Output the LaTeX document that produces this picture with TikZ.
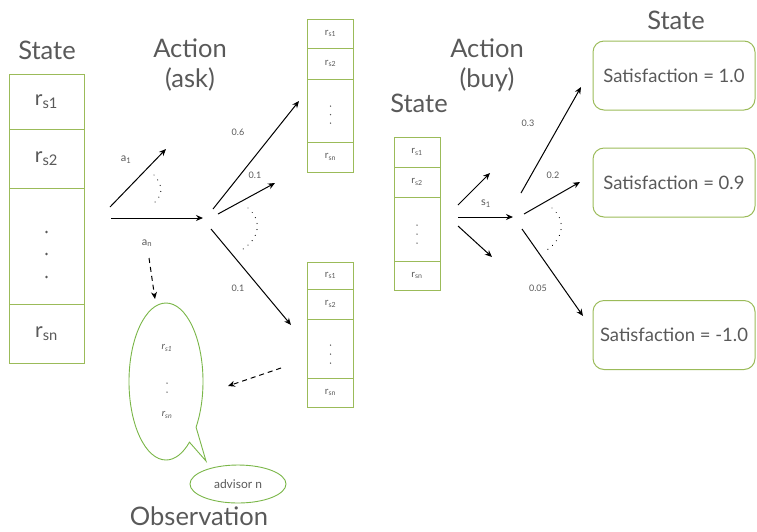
\documentclass[tikz,border=0pt]{standalone}
\usepackage{fontspec}
\setmainfont{Lato}
\usetikzlibrary{arrows.meta, shapes.callouts, shapes.geometric}
\definecolor{mdpGreen}{HTML}{9BBB59}
\definecolor{mdpBubble}{HTML}{7AB648}
\definecolor{mdpGrey}{HTML}{595959}
\newcommand{\rs}[1]{r\textsubscript{s#1}}
\tikzset{
  %% titles over each column
  titre/.style     = {font=\fontsize{25.5}{30}\selectfont, text=mdpGrey, align=center},
  %% state stacks: big on the left, small for the successor states
  cellBig/.style   = {draw=mdpGreen, line width=1pt, minimum width=75pt, inner sep=0pt,
                      text=mdpGrey, font=\fontsize{21}{23}\selectfont, align=center},
  cellSmall/.style = {draw=mdpGreen, line width=0.9pt, minimum width=46pt, inner sep=0pt,
                      text=mdpGrey, font=\fontsize{10}{7}\selectfont, align=center},
  issue/.style     = {draw=mdpGreen, line width=1pt, rounded corners=11pt,
                      minimum width=162pt, minimum height=69pt, text=mdpGrey,
                      font=\fontsize{18.5}{20}\selectfont},
  %% arrows
  fleche/.style    = {-{Stealth[length=7pt, width=6pt]}, line width=1pt},
  flecheObs/.style = {fleche, dash pattern=on 5pt off 4pt},
  arc/.style       = {line width=1.1pt, dash pattern=on 0.1pt off 6pt, line cap=round},
  proba/.style     = {font=\fontsize{9}{10}\selectfont, text=mdpGrey},
  choix/.style     = {font=\fontsize{11}{12}\selectfont, text=mdpGrey},
}

\begin{document}
\begin{tikzpicture}[x=1pt, y=-1pt]
\useasboundingbox (0,0) rectangle (757,531);

%% column titles
\node[titre] (tState)  at (47,50)   {State};
\node[titre] (tAsk)    at (190,65)  {Action\\(ask)};
\node[titre] (tMid)    at (419,103) {State};
\node[titre] (tBuy)    at (487,65)  {Action\\(buy)};
\node[titre] (tOut)    at (676,20)  {State};
\node[titre] (tObs)    at (199,516) {Observation};

%% current state
\foreach \n/\y/\h/\t in {1/101.5/55/{\rs1}, 2/158.5/59/{\rs2},
                         3/246/116/{}, 4/333.5/59/{\rs n}}
  \node[cellBig, minimum height=\h pt] (L\n) at (46.5,\y) {\t};

%% successor states after asking
\foreach \n/\y/\h/\t in {1/33.5/29/{\rs1}, 2/63.5/31/{\rs2},
                         3/110.5/63/{}, 4/157/30/{\rs n}}
  \node[cellSmall, minimum height=\h pt] (U\n) at (330.5,\y) {\t};
\foreach \n/\y/\h/\t in {1/275.5/27/{\rs1}, 2/304/30/{\rs2},
                         3/348.5/59/{}, 4/392.5/29/{\rs n}}
  \node[cellSmall, minimum height=\h pt] (D\n) at (330.5,\y) {\t};

%% state before buying
\foreach \n/\y/\h/\t in {1/152/30/{\rs1}, 2/182/30/{\rs2},
                         3/229/64/{}, 4/275.5/29/{\rs n}}
  \node[cellSmall, minimum height=\h pt] (M\n) at (417,\y) {\t};

%% vertical ellipses
\foreach \y in {232, 254, 277}
  \fill[mdpGrey] (46.5,\y) circle (1.3pt);
\foreach \x/\y in {330.5/106, 330.5/114.5, 330.5/123, 330.5/345, 330.5/354, 330.5/363,
                   417/225, 417/234, 417/243, 167/383, 167/392}
  \fill[mdpGrey] (\x,\y) circle (0.75pt);

%% final states
\node[issue] (sat1) at (674,75.5)  {Satisfaction = 1.0};
\node[issue] (sat2) at (674,182.5) {Satisfaction = 0.9};
\node[issue] (sat3) at (674,335)   {\raisebox{-10pt}{Satisfaction = -1.0}};

%% observation
\node[ellipse callout, draw=mdpBubble, line width=0.9pt, minimum width=74pt,
      minimum height=157pt, callout absolute pointer={(206,461)}]
     (obs) at (166,381.5) {};
\node[text=mdpGrey, font=\itshape\fontsize{10}{13}\selectfont] (obs1) at (167,348) {\rs1};
\node[text=mdpGrey, font=\itshape\fontsize{10}{13}\selectfont] (obsn) at (167,415) {\rs n};
\node[ellipse, draw=mdpBubble, line width=0.9pt, minimum width=96pt, minimum height=38pt,
      text=mdpGrey, font=\fontsize{12}{13}\selectfont] (adv) at (238,484) {advisor n};

%% ask
\coordinate (a1From) at (110,207);   \coordinate (a1To) at (166,149);
\coordinate (askFrom) at (111,218);  \coordinate (askTo) at (203,218);
\coordinate (anFrom) at (149,258);   \coordinate (anTo) at (155,299);
\draw[fleche] (a1From) -- (a1To);
\draw[fleche] (askFrom) -- (askTo);
\draw[flecheObs] (anFrom) -- (anTo);
\draw[arc] (154,175) .. controls (164,186) and (163,196) .. (152,205);
\node[choix] (a1) at (126,160) {a\textsubscript{1}};
\node[choix] (an) at (147,243) {a\textsubscript{n}};

\coordinate (p6From) at (213,209);   \coordinate (p6To) at (299,101);
\coordinate (p1From) at (218,214);   \coordinate (p1To) at (275,183);
\coordinate (pnFrom) at (211,229);   \coordinate (pnTo) at (291,325);
\draw[fleche] (p6From) -- (p6To);
\draw[fleche] (p1From) -- (p1To);
\draw[fleche] (pnFrom) -- (pnTo);
\draw[arc] (248,208) .. controls (262,220) and (260,238) .. (243,249);
\node[proba] (q6) at (238,132) {0.6};
\node[proba] (q1) at (255,175) {0.1};
\node[proba] (qn) at (238,288) {0.1};

\coordinate (backFrom) at (281,368); \coordinate (backTo) at (228,386);
\draw[flecheObs] (backFrom) -- (backTo);

%% buy
\coordinate (b1From) at (458,205);   \coordinate (b1To) at (490,173);
\coordinate (buyFrom) at (458,217);  \coordinate (buyTo) at (513,217);
\coordinate (bnFrom) at (458,226);   \coordinate (bnTo) at (492,257);
\draw[fleche] (b1From) -- (b1To);
\draw[fleche] (buyFrom) -- (buyTo);
\draw[fleche] (bnFrom) -- (bnTo);
\node[choix] (s1) at (486,204) {s\textsubscript{1}};

\coordinate (o1From) at (521,193);   \coordinate (o1To) at (581,87);
\coordinate (o2From) at (524,214);   \coordinate (o2To) at (580,182);
\coordinate (o3From) at (522,229);   \coordinate (o3To) at (583,316);
\draw[fleche] (o1From) -- (o1To);
\draw[fleche] (o2From) -- (o2To);
\draw[fleche] (o3From) -- (o3To);
\draw[arc] (552,208) .. controls (566,220) and (564,238) .. (547,250);
\node[proba] (r1) at (528,123) {0.3};
\node[proba] (r2) at (553,175) {0.2};
\node[proba] (r3) at (538,288) {0.05};

\end{tikzpicture}
\end{document}
